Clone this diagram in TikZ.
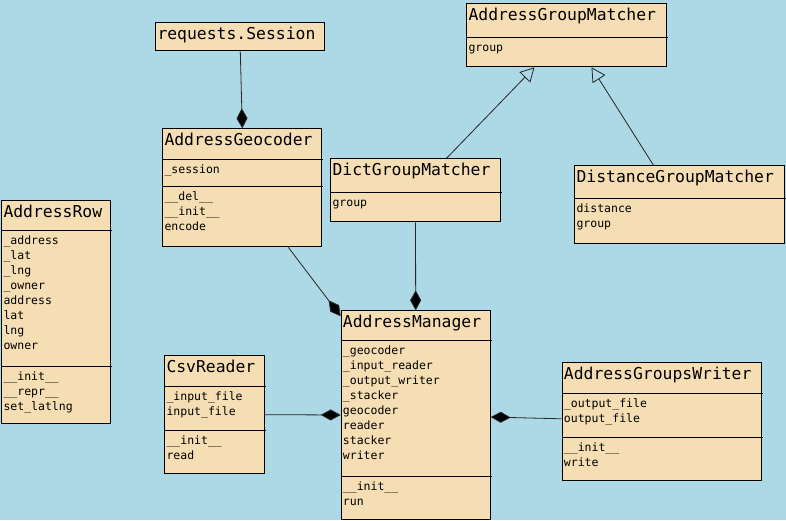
\documentclass[tikz,border=0pt]{standalone}
\usepackage{fontspec}
\setmonofont{DejaVu Sans Mono}
\usetikzlibrary{arrows.meta,calc}
\definecolor{bgblue}{HTML}{ADD8E6}
\definecolor{wheatfill}{HTML}{F5DEB3}
\tikzset{
 classbox/.style={draw=black, fill=wheatfill, line width=1pt, inner sep=0pt, anchor=north west},
 ctitle/.style={font=\fontsize{16.4}{18}\selectfont\ttfamily, inner sep=0pt, anchor=base west},
 member/.style={font=\fontsize{11.5}{15}\selectfont\ttfamily, inner sep=0pt, anchor=base west},
 sepline/.style={line width=1pt},
 comp/.style={draw=black!85, line width=0.8pt, -{Diamond[length=20pt,width=11pt,fill=black]}},
 inherit/.style={draw=black!85, line width=0.8pt, -{Triangle[open,length=14pt,width=15pt]}},
}
% id, x1, y1, x2, y2, title
\newcommand\umlclass[6]{%
 \node[classbox, minimum width={(#4-#2)*1pt}, minimum height={(#5-#3)*1pt}] (#1) at (#2,#3) {};
 \node[ctitle] (#1-t) at (#2+2,#3+17.5) {#6};}
% x1, x2, y
\newcommand\umlsep[3]{\draw[sepline] (#1,#3) -- (#2+2,#3);}
% id, x, first baseline, list
\newcommand\umlmembers[4]{%
 \foreach \t [count=\i from 0] in {#4} {\node[member] (#1-\i) at (#2,#3+15*\i) {\t};}}
\begin{document}
\begin{tikzpicture}[x=1pt,y=-1pt]
\useasboundingbox (0,0) rectangle (786,520);
\fill[bgblue] (0,0) rectangle (786,520);

% requests.Session
\umlclass{sess}{155.3}{22.3}{324.3}{50.3}{requests.Session}

% AddressGeocoder
\umlclass{geo}{162.3}{128.3}{321.3}{246.3}{AddressGeocoder}
\umlsep{162.3}{321.3}{159.3}
\umlsep{162.3}{321.3}{186.3}
\umlmembers{geo-a}{164.3}{173.3}{\_session}
\umlmembers{geo-m}{164.3}{200.3}{\_\_del\_\_,\_\_init\_\_,encode}

% AddressRow
\umlclass{row}{1.3}{200.3}{110.3}{423.3}{AddressRow}
\umlsep{1.3}{110.3}{230.3}
\umlsep{1.3}{110.3}{366.3}
\umlmembers{row-a}{3.3}{244.3}{\_address,\_lat,\_lng,\_owner,address,lat,lng,owner}
\umlmembers{row-m}{3.3}{380.3}{\_\_init\_\_,\_\_repr\_\_,set\_latlng}

% AddressGroupMatcher
\umlclass{agm}{466.3}{3.3}{665.7}{66.3}{AddressGroupMatcher}
\umlsep{466.3}{665.7}{37.3}
\umlmembers{agm-a}{468.3}{51.3}{group}

% DictGroupMatcher
\umlclass{dict}{330.3}{158.3}{499.7}{221.3}{DictGroupMatcher}
\umlsep{330.3}{499.7}{192.3}
\umlmembers{dict-a}{332.3}{206.3}{group}

% DistanceGroupMatcher
\umlclass{dist}{574.3}{165.3}{783.7}{243.3}{DistanceGroupMatcher}
\umlsep{574.3}{783.7}{198.3}
\umlmembers{dist-a}{576.3}{212.3}{distance,group}

% CsvReader
\umlclass{csv}{164.3}{355.3}{263.7}{473}{CsvReader}
\umlsep{164.3}{263.7}{386.3}
\umlsep{164.3}{263.7}{430.3}
\umlmembers{csv-a}{166.3}{400.3}{\_input\_file,input\_file}
\umlmembers{csv-m}{166.3}{444.3}{\_\_init\_\_,read}

% AddressManager
\umlclass{mgr}{340.7}{310.3}{489.7}{518.7}{AddressManager}
\umlsep{340.7}{489.7}{340.3}
\umlsep{340.7}{489.7}{476.3}
\umlmembers{mgr-a}{342.7}{354.3}{\_geocoder,\_input\_reader,\_output\_writer,\_stacker,geocoder,reader,stacker,writer}
\umlmembers{mgr-m}{342.7}{490.3}{\_\_init\_\_,run}

% AddressGroupsWriter
\umlclass{wri}{561.7}{362.3}{760.7}{480.3}{AddressGroupsWriter}
\umlsep{561.7}{760.7}{393.3}
\umlsep{561.7}{760.7}{437}
\umlmembers{wri-a}{563.7}{407.3}{\_output\_file,output\_file}
\umlmembers{wri-m}{563.7}{451}{\_\_init\_\_,write}

% connectors
\draw[comp] (sess.south) -- (geo.north);
\draw[comp] ([xshift=46pt]geo.south) -- ([yshift=-6pt]mgr.north west);
\draw[comp] (dict.south) -- (mgr.north);
\draw[comp] (csv.east) -- (mgr.west);
\draw[comp] ([yshift=3pt]wri.west) -- ([yshift=-2pt]mgr.east);
\draw[inherit] ([xshift=31pt]dict.north) -- ([xshift=-32pt]agm.south);
\draw[inherit] ([xshift=-26pt]dist.north) -- ([xshift=25pt]agm.south);
\end{tikzpicture}
\end{document}
